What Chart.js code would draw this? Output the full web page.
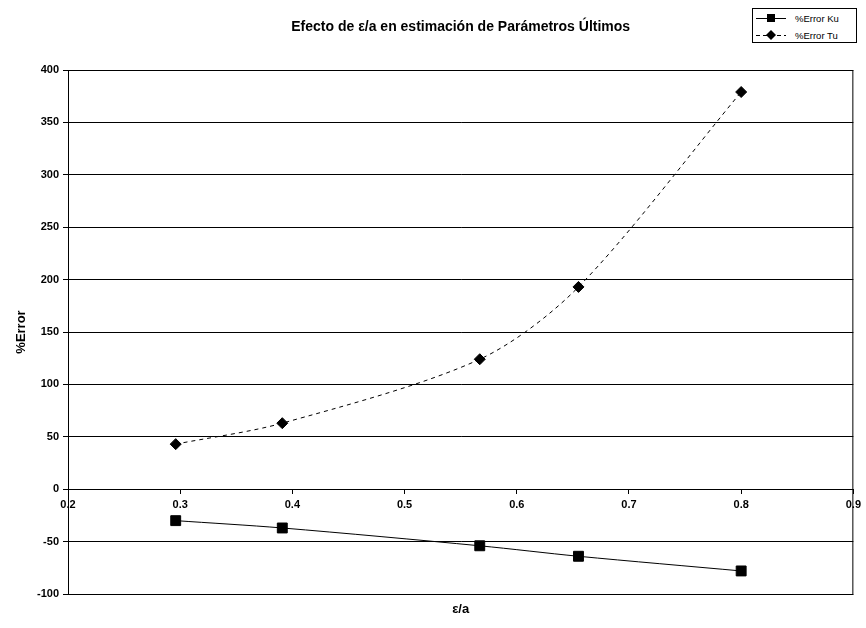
<!DOCTYPE html>
<html>
<head>
<meta charset="utf-8">
<script src="https://cdn.jsdelivr.net/npm/chart.js@4.4.0/dist/chart.umd.min.js"></script>
<style>
body{margin:0;background:#fff}
#wrap{position:relative;width:866px;height:628px}
#legend{position:absolute;left:752px;top:8px;width:103px;height:33px;border:1px solid #000;background:#fff;
font-family:"Liberation Sans",Arial,sans-serif;font-size:9.5px;color:#000;-webkit-font-smoothing:antialiased}
#legend .row{display:flex;align-items:center;height:16px;margin-top:1px}
#legend svg{margin-left:2px;margin-right:8px}
</style>
</head>
<body>
<div id="wrap">
<canvas id="chart" width="866" height="628"></canvas>
<div id="legend"></div>
</div>
<script>
// valores
const epsA = [0.296, 0.391, 0.567, 0.655, 0.800]
const errorKu = [-30, -37, -54, -64, -78]
const errorTu = [43, 63, 124, 193, 379]

const xTicks = [0.2, 0.3, 0.4, 0.5, 0.6, 0.7, 0.8, 0.9]
const yTicks = [-100, -50, 0, 50, 100, 150, 200, 250, 300, 350, 400]

const font = '"Liberation Sans", Arial, sans-serif'
Chart.defaults.font.family = font
Chart.defaults.color = '#000'

const areaBorder = {
id: 'areaBorder',
afterDraw(chart){
const a = chart.chartArea
const ctx = chart.ctx
ctx.save()
ctx.strokeStyle = '#000'
ctx.lineWidth = 1
ctx.strokeRect(a.left + 0.5, a.top + 0.5, a.right - a.left - 1, a.bottom - a.top)
ctx.restore()
}
}

const chart = new Chart(document.getElementById('chart'), {

type: 'scatter',

data: {
datasets: [{
label: '%Error Ku',
data: epsA.map((x, i) => ({x: x, y: errorKu[i]})),
showLine: true,
borderColor: '#000',
backgroundColor: '#000',
borderWidth: 1,
pointStyle: 'rect',
pointRadius: 7,
tension: 0.3
}, {
label: '%Error Tu',
data: epsA.map((x, i) => ({x: x, y: errorTu[i]})),
showLine: true,
borderColor: '#000',
backgroundColor: '#000',
borderWidth: 1,
borderDash: [4, 4],
pointStyle: 'rectRot',
pointRadius: 5.5,
tension: 0.3
}]
},

options: {
responsive: false,
animation: false,
layout: {padding: {left: 0, right: 8, top: 0, bottom: 0}},
plugins: {
legend: {display: false},
tooltip: {enabled: false},
title: {
display: true,
fullSize: false,
text: 'Efecto de ε/a en estimación de Parámetros Últimos',
font: {size: 14, weight: 'bold'},
padding: {top: 18.6, bottom: 34.6}
}
},
scales: {
x: {
type: 'linear',
position: {y: 0},
min: 0.2,
max: 0.9,
afterBuildTicks: s => { s.ticks = xTicks.map(v => ({value: v})) },
ticks: {
autoSkip: false,
maxRotation: 0,
padding: 5,
font: {size: 11, weight: 'bold'},
callback: v => String(v)
},
grid: {drawOnChartArea: false, drawTicks: true, tickLength: 4, color: '#000'},
border: {color: '#000', width: 1}
},
x2: {
type: 'linear',
position: 'bottom',
min: 0.2,
max: 0.9,
ticks: {display: false},
grid: {display: false, drawTicks: false},
border: {display: false},
title: {
display: true,
text: 'ε/a',
font: {size: 13, weight: 'bold'},
padding: {top: 7.2, bottom: 11.2}
}
},
y: {
type: 'linear',
min: -100,
max: 400,
afterBuildTicks: s => { s.ticks = yTicks.map(v => ({value: v})) },
afterFit: s => { s.width = 68 },
ticks: {
padding: 4,
font: {size: 11, weight: 'bold'}
},
grid: {color: '#000', lineWidth: 1, tickLength: 5},
border: {color: '#000', width: 1},
title: {
display: true,
text: '%Error',
font: {size: 13, weight: 'bold'},
padding: {top: 13.2, bottom: 4}
}
}
}
},

plugins: [areaBorder]

})

// leyenda en html, como el recuadro de la figura
function buildLegend(){
const box = document.getElementById('legend')
chart.data.datasets.forEach(ds => {
const row = document.createElement('div')
row.className = 'row'
const dash = ds.borderDash ? 'stroke-dasharray="4,3"' : ''
const mark = ds.pointStyle === 'rect'
? '<rect x="12" y="3" width="8" height="8" fill="#000"/>'
: '<polygon points="16,2 21,7 16,12 11,7" fill="#000"/>'
row.innerHTML = `<svg width="32" height="14"><line x1="1" y1="7.5" x2="31" y2="7.5" stroke="#000" ${dash}/>${mark}</svg><span>${ds.label}</span>`
box.appendChild(row)
})
}

buildLegend()
</script>
</body>
</html>
